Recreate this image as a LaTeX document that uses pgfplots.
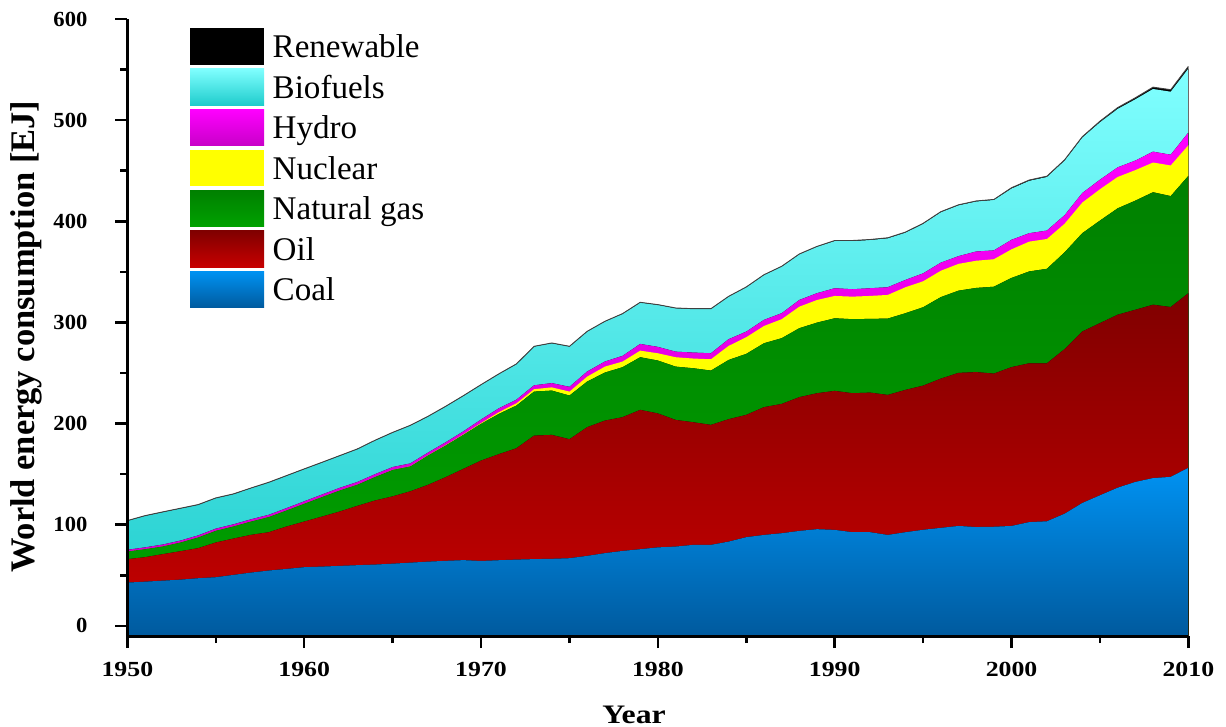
\documentclass[border=0pt]{standalone}
\usepackage{fontspec}
\setmainfont{Liberation Serif}
\usepackage{graphicx}
\usepackage{pgfplots}
\pgfplotsset{compat=1.18}
\usepackage{pgfplotstable}
\usepgfplotslibrary{fillbetween}

% layer colours (top and bottom of each vertical gradient)
\definecolor{coalTop}{RGB}{0,146,242}
\definecolor{coalBot}{RGB}{0,90,158}
\definecolor{oilTop}{RGB}{128,0,0}
\definecolor{oilBot}{RGB}{200,0,0}
\definecolor{gasTop}{RGB}{0,128,0}
\definecolor{gasBot}{RGB}{0,162,0}
\definecolor{nucCol}{RGB}{255,255,0}
\definecolor{hydTop}{RGB}{255,0,255}
\definecolor{hydBot}{RGB}{200,0,200}
\definecolor{bioTop}{RGB}{128,255,255}
\definecolor{bioBot}{RGB}{30,204,204}

% World energy consumption in EJ, cumulative top of each stacked layer
% (coal, +oil, +natural gas, +nuclear, +hydro, +biofuels, +renewable)
\pgfplotstableread{
year coal  oil   gas   nuc   hyd   bio   ren
1950 42.8  65.9  73.4  73.4  75.2  103.8 104.1
1951 43.7  67.9  75.7  75.7  77.6  108.7 109.0
1952 44.7  70.9  78.4  78.4  80.4  112.4 112.7
1953 45.7  73.8  82.3  82.3  84.3  116.0 116.3
1954 47.1  76.8  87.3  87.3  89.4  119.6 119.9
1955 48.1  82.4  93.9  93.9  96.1  126.2 126.5
1956 50.4  86.3  98.2  98.2  100.4 130.2 130.5
1957 52.7  90.0  103.1 103.1 105.4 136.1 136.4
1958 54.7  92.6  107.5 107.5 109.8 141.7 142.0
1959 56.3  98.2  114.0 114.0 116.4 148.3 148.6
1960 58.0  103.1 120.6 120.6 123.1 154.9 155.2
1961 58.6  108.0 127.2 127.2 129.8 161.4 161.7
1962 59.3  113.0 133.7 133.7 136.4 168.0 168.3
1963 60.0  118.6 139.4 139.4 142.2 174.6 174.9
1964 60.6  123.9 147.0 147.0 149.9 183.2 183.5
1965 61.5  128.0 154.0 154.1 157.0 191.0 191.3
1966 62.5  133.0 157.5 157.7 160.6 198.0 198.3
1967 63.5  139.4 168.3 168.6 171.3 206.9 207.2
1968 64.3  147.0 178.2 178.6 181.5 216.8 217.1
1969 65.0  155.2 188.8 189.3 192.3 227.3 227.6
1970 64.2  163.4 199.7 200.5 204.0 238.2 238.5
1971 64.9  169.7 209.5 211.2 215.0 248.8 249.1
1972 65.5  175.6 217.8 220.0 223.6 258.7 259.0
1973 66.0  188.1 231.6 234.0 237.8 276.1 276.4
1974 66.3  188.8 232.6 235.8 240.0 279.4 279.7
1975 66.9  184.5 227.7 231.6 236.3 276.1 276.4
1976 69.2  196.4 241.5 246.4 251.4 290.9 291.2
1977 71.9  202.9 250.4 256.3 261.3 300.8 301.1
1978 74.1  206.3 255.7 261.3 266.9 308.4 308.7
1979 75.8  213.5 265.6 272.1 278.7 319.6 319.9
1980 77.6  210.0 262.3 269.5 275.8 317.3 317.6
1981 78.4  203.6 256.3 265.6 271.1 314.0 314.3
1982 80.1  201.3 254.7 264.3 270.2 313.3 313.6
1983 80.1  198.7 252.4 263.6 269.5 313.3 313.6
1984 83.3  204.3 262.9 276.8 283.4 325.5 325.8
1985 87.7  208.6 268.9 285.4 290.9 334.8 335.1
1986 89.9  216.2 279.4 296.5 302.5 346.9 347.2
1987 91.6  219.4 284.4 303.2 309.1 355.2 355.5
1988 93.9  226.1 294.3 315.6 322.2 367.4 367.7
1989 95.6  230.0 299.8 322.2 328.9 374.9 375.2
1990 94.9  232.3 304.1 326.2 333.8 380.5 381.0
1991 92.6  230.0 303.2 325.5 332.8 380.5 381.0
1992 92.6  230.6 303.5 326.2 333.8 381.5 382.0
1993 89.9  228.3 303.8 327.2 334.8 383.2 383.7
1994 92.6  233.3 309.1 334.8 342.0 388.8 389.3
1995 95.0  237.5 315.0 340.7 348.5 397.5 398.0
1996 96.9  244.4 325.0 351.1 359.1 409.0 409.5
1997 98.8  250.1 331.4 357.9 365.5 415.8 416.3
1998 97.7  250.9 334.1 361.0 370.1 419.6 420.1
1999 98.0  249.4 335.3 362.5 371.2 421.1 421.6
2000 98.8  255.8 344.0 372.3 381.7 432.4 433.2
2001 102.6 259.6 350.4 379.9 388.2 440.0 440.8
2002 103.4 259.6 353.0 382.5 390.8 443.8 444.6
2003 110.9 273.6 369.3 397.6 406.0 460.0 460.8
2004 121.5 291.0 388.2 418.5 427.9 482.8 483.6
2005 129.1 299.3 400.7 431.7 441.1 497.9 499.0
2006 136.6 307.6 412.8 443.8 453.3 511.1 512.4
2007 142.3 312.5 420.4 450.6 460.0 520.6 522.1
2008 146.1 317.5 428.7 458.1 468.8 530.8 532.6
2009 147.3 315.2 424.9 455.2 465.8 528.1 530.1
2010 156.3 328.9 444.9 475.2 487.7 551.0 553.2
}\energy

\pgfplotsset{
  swatch/.style={legend image code/.code={
      \path[##1,draw=none] (0bp,-3.5bp) rectangle (37bp,14.85bp);}},
}

\begin{document}
\begin{tikzpicture}
\begin{axis}[
  scale only axis,
  width=530.5bp, height=308.5bp,
  xmin=1950, xmax=2010, ymin=-10, ymax=600,
  axis lines*=left,
  axis on top,
  axis line style={line width=1.5bp},
  tick align=outside,
  major tick length=6bp, minor tick length=3.5bp,
  every tick/.style={black, line width=1.25bp},
  xtick={1950,1960,...,2010},
  ytick={0,100,...,600},
  minor x tick num=1, minor y tick num=1,
  /pgf/number format/1000 sep={},
  /pgf/number format/assume math mode=true,
  ticklabel style={font=\fontsize{10.8}{13}\selectfont\bfseries},
  xticklabel={\scalebox{1.2}[1]{\pgfmathprintnumber{\tick}}},
  yticklabel={\scalebox{1.05}[1]{\pgfmathprintnumber{\tick}}},
  xticklabel style={yshift=-3.5bp},
  yticklabel style={xshift=-10.5bp},
  xlabel={\scalebox{1.19}[1]{Year}},
  x label style={font=\fontsize{13.4}{16}\selectfont\bfseries,
    at={(axis description cs:0.4775,0)}, anchor=base, yshift=-43.7bp},
  ylabel={World energy consumption [EJ]},
  y label style={font=\fontsize{17.3}{20}\selectfont\bfseries,
    at={(axis description cs:-0.0956,0.485)}, anchor=center},
  legend cell align=left,
  legend style={at={(axis description cs:0.059,0.985)}, anchor=north west,
    draw=none, fill=none, inner sep=0pt, outer sep=0pt,
    row sep=1.9bp,
    font=\fontsize{16.6}{19}\selectfont,
    nodes={inner sep=0pt, anchor=base west},
    /tikz/every odd column/.append style={column sep=4.35bp}},
]
% outline paths of each stacked layer
\addplot[name path=base, draw=none, forget plot] coordinates {(1950,-10) (2010,-10)};
\addplot[name path=ren,  draw=none, forget plot] table[x=year,y=ren]{\energy};
\addplot[name path=bio,  draw=none, forget plot] table[x=year,y=bio]{\energy};
\addplot[name path=hyd,  draw=none, forget plot] table[x=year,y=hyd]{\energy};
\addplot[name path=nuc,  draw=none, forget plot] table[x=year,y=nuc]{\energy};
\addplot[name path=gas,  draw=none, forget plot] table[x=year,y=gas]{\energy};
\addplot[name path=oil,  draw=none, forget plot] table[x=year,y=oil]{\energy};
\addplot[name path=coal, draw=none, forget plot] table[x=year,y=coal]{\energy};

% layers painted from the total downwards
\addplot[fill=black, draw=none, swatch] fill between[of=ren and base];
\addlegendentry{Renewable}
\addplot[top color=bioTop, bottom color=bioBot, draw=none, swatch] fill between[of=bio and base];
\addlegendentry{Biofuels}
\addplot[top color=hydTop, bottom color=hydBot, draw=none, swatch] fill between[of=hyd and base];
\addlegendentry{Hydro}
\addplot[fill=nucCol, draw=none, swatch] fill between[of=nuc and base];
\addlegendentry{Nuclear}
\addplot[top color=gasTop, bottom color=gasBot, draw=none, swatch] fill between[of=gas and base];
\addlegendentry{Natural gas}
\addplot[top color=oilTop, bottom color=oilBot, draw=none, swatch] fill between[of=oil and base];
\addlegendentry{Oil}
\addplot[top color=coalTop, bottom color=coalBot, draw=none, swatch] fill between[of=coal and base];
\addlegendentry{Coal}

% thin outline along the total
\addplot[black!75, line width=0.45bp, forget plot] table[x=year,y=ren]{\energy};
\end{axis}
\pgfresetboundingbox
\path (-63.7bp,-45.5bp) rectangle (549.3bp,318bp);
\end{tikzpicture}
\end{document}
